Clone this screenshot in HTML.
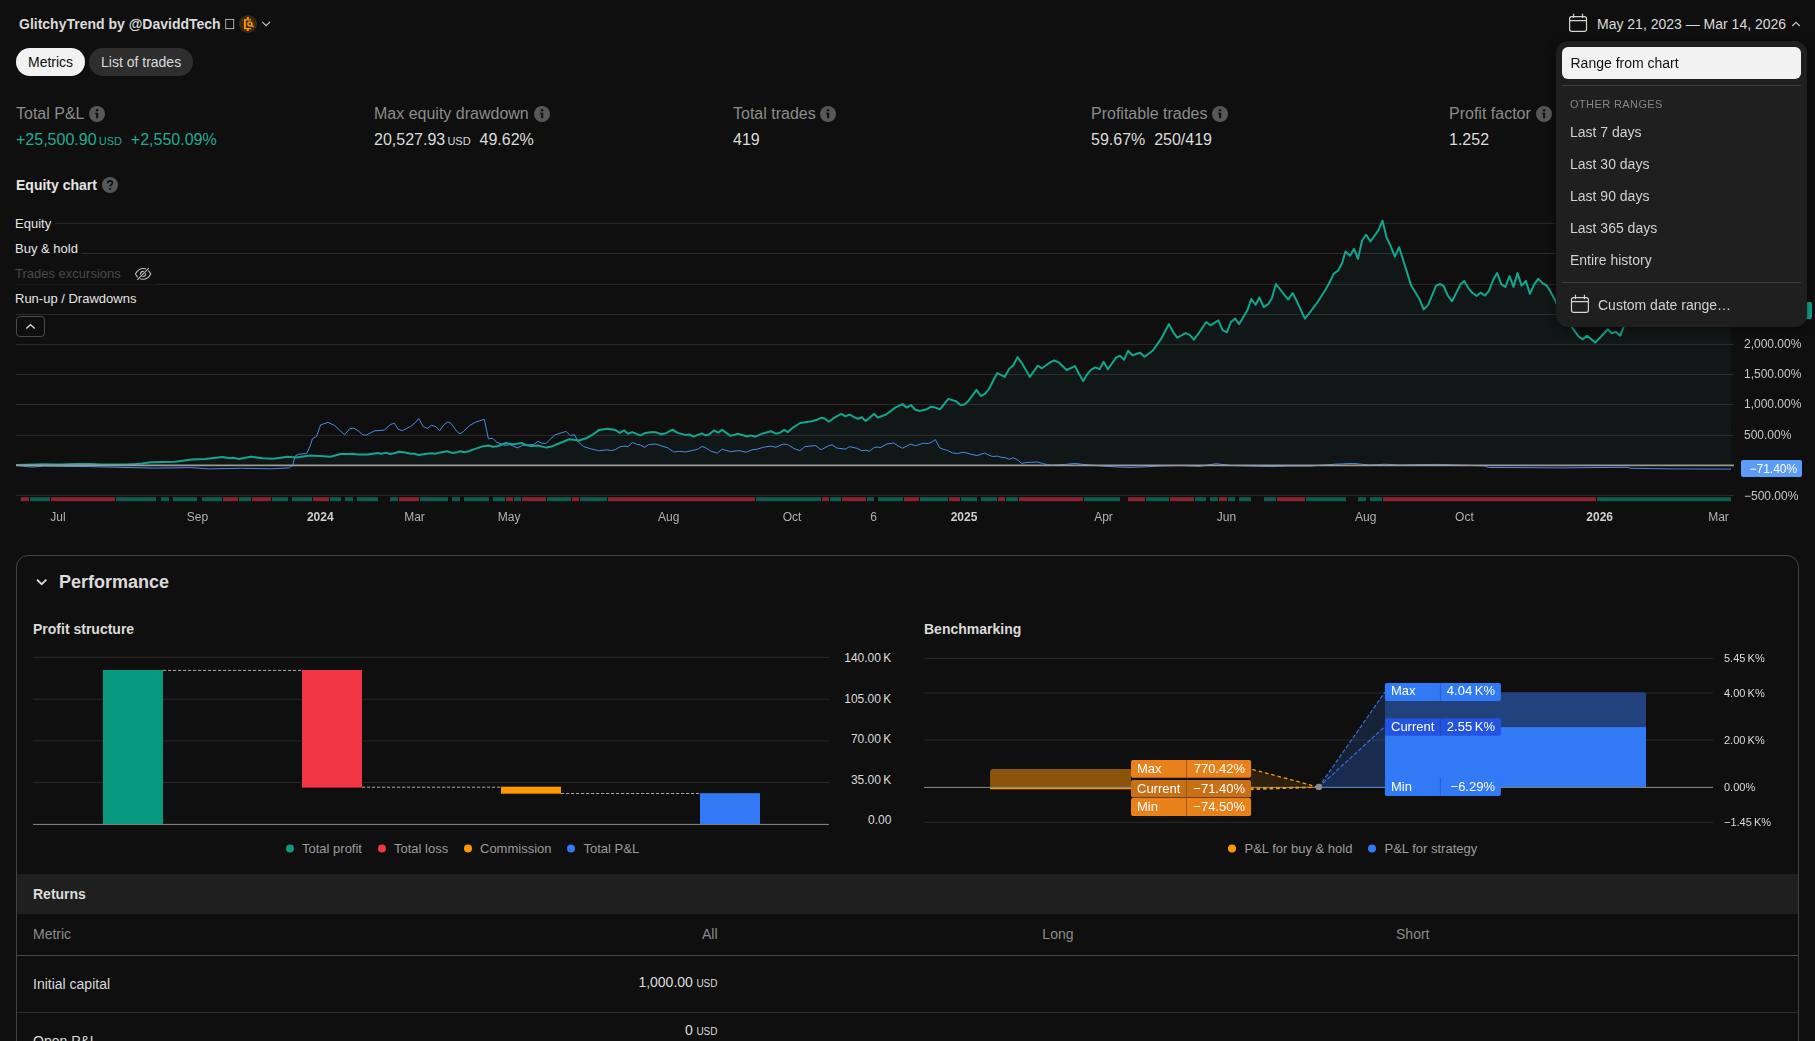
<!DOCTYPE html>
<html>
<head>
<meta charset="utf-8">
<style>
*{box-sizing:border-box;margin:0;padding:0}
html,body{width:1815px;height:1041px;overflow:hidden;background:#0f0f0f;}
body{font-family:"Liberation Sans",sans-serif;color:#dbdbdb;position:relative;font-size:14px;}
.abs{position:absolute;white-space:nowrap;}
.t{position:absolute;white-space:nowrap;line-height:1;}
.title{left:19px;top:17px;font-weight:bold;font-size:14px;color:#dbdbdb;}
.pill{position:absolute;top:48px;height:28px;border-radius:14px;font-size:14px;line-height:28px;padding:0 12px;white-space:nowrap;}
.pill.on{left:16px;background:#f2f2f2;color:#0f0f0f;}
.pill.off{left:89px;background:#2e2e2e;color:#dbdbdb;}
.lab{font-size:16px;color:#8c8c8c;}
.val{font-size:16px;color:#dbdbdb;}
.grn{color:#22ab94;}
.usd{font-size:11px;}
.info{position:absolute;width:16px;height:16px;border-radius:8px;background:#575757;}
.axl{font-size:12px;color:#dbdbdb;}
.tl{font-size:12px;color:#b8b8b8;transform:translateX(-50%);}
.tl b{color:#dbdbdb;}
.leg{font-size:13px;color:#dbdbdb;background:#0f0f0f;}
.lg{font-size:13px;color:#9c9c9c;}
.dot{position:absolute;width:8px;height:8px;border-radius:4px;}
.yl{font-size:11px;color:#dbdbdb;}
.gsl{position:absolute;left:0;top:0;width:1815px;height:1041px;will-change:transform;pointer-events:none;}
.dd{position:absolute;left:1556px;top:41px;width:251px;height:286px;background:#1f1f1f;border-radius:12px;box-shadow:0 2px 8px rgba(0,0,0,.5);}
.ddi{font-size:14px;color:#dbdbdb;left:14px;}
</style>
</head>
<body>
<!-- HEADER -->
<div class="t title">GlitchyTrend by @DaviddTech</div>
<svg class="abs" style="left:220px;top:10px" width="60" height="28" viewBox="220 10 60 28">
<rect x="225.7" y="19.4" width="8" height="9.2" fill="none" stroke="#bdbdbd" stroke-width="0.9"/>
<circle cx="248" cy="24" r="9" fill="#3d290b"/>
<g fill="none" stroke="#ff9800">
<path d="M251 19.85H245V28.6H251" stroke-width="1.25"/>
<path d="M244.75 19.3V29.1" stroke-width="1.6"/>
<path d="M247.85 17.1V19.5M247.85 28.9V30.9" stroke-width="1.9"/>
<circle cx="249.9" cy="23.95" r="2" stroke-width="1.5" fill="#3d290b"/>
<path d="M251.3 25.3L253.7 26.9" stroke-width="1.5"/>
</g>
<path d="M262.2 21.9L266.1 25.6L270 21.9" fill="none" stroke="#c4c4c4" stroke-width="1.25"/>
</svg>

<div class="pill on">Metrics</div>
<div class="pill off">List of trades</div>

<!-- date range button -->
<svg class="abs" style="left:1566px;top:11px" width="24" height="24" viewBox="1566 11 24 24"><g fill="none" stroke="#d4d4d4" stroke-width="1.2"><rect x="1569.6" y="16.6" width="16.9" height="14.7" rx="2.1"/><path d="M1569.6 20.6h16.9M1573.55 13.8v4.3M1582.55 13.8v4.3"/></g></svg>
<div class="t" style="left:1597px;top:17px;font-size:14px;color:#dbdbdb;">May 21, 2023 — Mar 14, 2026</div>
<svg class="abs" style="left:1790.5px;top:21px" width="10" height="6" viewBox="0 0 10 6"><path d="M1.2 5l3.8-3.6L8.8 5" fill="none" stroke="#c4c4c4" stroke-width="1.2"/></svg>

<!-- STATS -->
<div class="t lab" style="left:16px;top:106px;">Total P&amp;L</div>
<div class="t val grn" style="left:16px;top:132px;">+25,500.90<span class="usd">&thinsp;USD</span>&nbsp; +2,550.09%</div>
<div class="t lab" style="left:374px;top:106px;">Max equity drawdown</div>
<div class="t val" style="left:374px;top:132px;">20,527.93<span class="usd">&thinsp;USD</span>&nbsp; 49.62%</div>
<div class="t lab" style="left:733px;top:106px;">Total trades</div>
<div class="t val" style="left:733px;top:132px;">419</div>
<div class="t lab" style="left:1091px;top:106px;">Profitable trades</div>
<div class="t val" style="left:1091px;top:132px;">59.67%&nbsp; 250/419</div>
<div class="t lab" style="left:1449px;top:106px;">Profit factor</div>
<div class="t val" style="left:1449px;top:132px;">1.252</div>

<div class="t" style="left:16px;top:178px;font-size:14px;font-weight:bold;color:#e6e6e6;">Equity chart</div>

<!-- EQUITY CHART -->
<svg id="eq" class="abs" style="left:0;top:200px" width="1815" height="340" viewBox="0 200 1815 340">
<path d="M16 223.3H1734" stroke="#2b2b2b" stroke-width="1"/>
<path d="M16 253.5H1734" stroke="#2b2b2b" stroke-width="1"/>
<path d="M16 284.4H1734" stroke="#2b2b2b" stroke-width="1"/>
<path d="M16 314.5H1734" stroke="#2b2b2b" stroke-width="1"/>
<path d="M16 344.4H1734" stroke="#2b2b2b" stroke-width="1"/>
<path d="M16 374.5H1734" stroke="#2b2b2b" stroke-width="1"/>
<path d="M16 404.5H1734" stroke="#2b2b2b" stroke-width="1"/>
<path d="M16 435.4H1734" stroke="#2b2b2b" stroke-width="1"/>
<path d="M16 495.4H1734" stroke="#2b2b2b" stroke-width="1"/>
<path d="M16.1 465.1L43.1 464.3L59.6 464.5L76.1 464L89.3 464.1L102.6 464.5L125.7 464.5L135.6 464.1L142.2 463.5L150.5 462.3L175.3 461.7L191.8 459.5L205 459L222.4 457L229.8 458.3L233.1 457.7L238.9 459L250.5 456.7L262.9 458.2L272.8 458.8L287.7 456.7L296 457.5L310 455.4L319.8 455.9L330.6 456.7L340.5 454L347.9 454L352.9 453.7L357.9 454.5L367.8 454.5L377.7 452.9L381.8 453.7L386 452.6L390.1 454L394.2 453.2L399.2 451.7L405 452.6L410.7 453.7L414 453.7L419 455L425.6 454L431.4 453.2L435.5 453.7L440.5 452.4L447.1 451.2L452.1 452.9L456.2 452.6L460.3 451.2L464.5 452.2L468.6 451.2L475.2 448.9L481.8 446.6L488.4 445.5L492.6 446.8L497.5 446.3L505.8 443L512.4 444.3L516.5 443.8L521.5 443L525.6 445L531.4 446L538 445.5L546.3 447.6L551.2 446.6L559.5 443.3L569.4 439.3L579.3 440.5L586 438.3L592.6 434.7L599.1 429.9L607.4 428.8L615.6 430.1L619.8 432.9L623.9 430.4L628 433.7L632.1 432.1L640.4 435.4L645.4 432.9L652.8 432.1L656.9 432.6L661.1 434.2L666 433.2L672.6 429.6L677.6 432.9L685 434.9L689.2 434.5L693.8 436.7L701.6 433.4L705.7 435.4L709 434.5L714 430.4L718.1 432.6L722.2 429.9L730.5 435.9L737.9 433.7L747 436.5L751.2 435.4L755.3 436.7L763.6 433.2L771 431.2L776 433.7L780.1 432.6L784.2 429.9L788 432.1L792.5 427.9L800.2 423L811.5 421.3L817.3 419.7L821.4 417.7L824.7 418.5L828.8 421.7L833.8 418L841.2 413.9L845.4 416.4L849.5 414.7L857.8 418.8L861.9 417.2L865.7 421L874 413.9L878.1 417.7L880 416.7L886.1 414.5L895.2 407.6L902.5 404.1L906.8 407.6L910.8 405L915.4 409.8L919.8 411L926.7 409.3L931 406.7L935.3 407.6L940 409.3L948.3 398.9L956.1 401.2L960.4 405.1L964.4 404.6L968.2 401.2L976.5 389.9L980.8 396L985 393.9L988.9 389L997.1 373.1L1004.8 376.9L1009.2 368.8L1013.1 365.7L1017.5 357.1L1021.8 363.1L1029.9 376.9L1037.7 365.7L1042 368.3L1050.3 362.2L1054.3 360.5L1058.6 362.2L1066.7 370L1075 366.1L1078.8 373.5L1083.2 380.9L1087.1 374.4L1091.3 369.7L1095.3 367.4L1099.6 369.2L1103.6 361.7L1107.9 369.2L1116 357.6L1120 355.7L1124.2 359.7L1128.1 350.7L1132.5 355.3L1140.2 352.7L1144.6 356.7L1152.9 350.5L1161 338.9L1169 324.1L1173.5 332.8L1177.3 337.6L1185.6 333.1L1189.7 334.8L1193.9 339.7L1198 334.2L1206.2 322L1210.5 325.3L1218.4 320.3L1222.6 330.2L1226.9 332.4L1230.9 322L1235.2 318.6L1239.2 324.1L1247.3 310.3L1251.3 299L1255.6 304.8L1259.4 297.3L1263.7 307.2L1268.1 304.2L1271.9 298.2L1275.9 284L1284.2 294.7L1288.3 299.6L1292.6 293L1296.6 300.8L1304.9 318.6L1309 313.7L1317.3 302.5L1325.6 289.5L1329.5 282.6L1333.8 273.6L1338.1 270.5L1342.1 263.3L1345.4 251.5L1349.9 255.8L1354 248.9L1358 258.8L1362 240.8L1366.1 234.7L1370.4 241.5L1378.2 230.7L1382.5 220.7L1386.5 237.1L1390.8 246.3L1394.8 256.7L1399.1 247.2L1407.3 273.1L1411.2 285.6L1419.4 299L1423.7 309.4L1428 305.1L1436.1 285.7L1440 284L1443.8 286.1L1447.8 295.6L1452.1 301.3L1460.4 284.4L1464.2 280.9L1468.5 288.3L1472.5 293L1476.7 295.9L1480.6 292.7L1485 295.6L1488.9 290.9L1493.1 280L1497.1 273.1L1501.4 284.4L1505.4 286.9L1509.5 276.2L1513.5 286.9L1517.5 273.1L1521.6 285.6L1525.9 280.9L1529.9 293.9L1534.2 284.4L1538.2 278.8L1542.5 283.1L1546.7 285.6L1550.7 292.1L1555 299.9L1559.3 310.3L1572.3 327.6L1578.3 336.2L1582.7 339.3L1587 335.7L1595.3 342.6L1603.4 334L1607.7 329.3L1611.7 333.3L1616 331.9L1620.3 335.7L1623.3 327.6L1628.5 306.8L1638.8 313.7L1647.5 299.9L1664.8 306.8L1682.1 296.5L1699.4 303.4L1716.7 306.8L1731.4 311L1731 465.2L16 465.2Z" fill="#22ab94" fill-opacity="0.055"/>
<path d="M16.1 465.3L29.8 466.9L34.8 466.9L43.1 466.1L89.3 466.6L109.2 467.1L155.5 468.1L191.8 467.6L208.3 468.9L241.4 468.3L271.2 468.8L289.3 467.9L292.6 465.3L295.1 456.2L298.4 454.2L306.7 453.6L310 446.3L312.4 438.8L316.5 436.4L320.7 424.8L328.1 422.3L334.7 425.6L344.6 434.7L349.6 428.9L353.7 428.1L357.9 430.6L362.8 434.7L366.1 435.2L374.4 430.9L384.3 430.1L390.1 424.8L394.2 423.1L398.3 429.4L402.5 430.6L410.7 426.4L415.7 422.3L418.7 418.5L423.1 426.4L427.3 428.4L431.4 425.3L435.5 426.4L439.7 430.6L443.8 424.8L447.9 421.8L451.2 423.5L456.2 430.6L460 433.9L463.6 431.4L469.4 425.6L475.2 422.3L484.3 419.3L488.4 438.8L492.6 438.3L496.7 442.1L505 445.5L509.9 444.6L517.4 447.9L522.3 445.5L528.1 445L533.9 444.3L538 441.3L542.1 443.3L546.3 443.3L554.5 435L566.1 431.4L570.2 435.5L574.4 434.7L578.5 442.1L583.5 446.6L590.9 448.8L597.5 450.4L599.1 450.7L607.4 449.8L611.5 450.6L615.6 449.4L619.8 446.9L623.9 446.1L628 446.6L632.5 442.5L636.3 444.1L640.4 445L644.5 447.4L648.7 444.5L656.1 444.1L661.1 445.8L667.7 447.8L673.5 451.9L679.3 451.4L685.9 451.9L697.4 449.4L702.1 446.4L705.7 447.8L710.7 451.1L717.3 453.1L722.2 449.1L725.5 450.2L730.5 451.6L738.8 450.6L746.2 452.2L752 449.8L757.8 449.1L762.7 447.4L771 446.1L776 447.3L780.1 445.3L783.4 444.1L787.5 444.5L794.1 448.6L799.9 450.7L804.9 446.6L815.6 445.6L821.1 449.8L828 446.1L832.1 444.8L837.1 448.1L845.4 449.1L849.5 446.6L856.9 448.3L861.9 450.7L866 450.2L869.3 451.4L874.3 447.4L878.4 447.1L880 447.8L886.9 444L893.8 443L898.2 446.1L902.5 448.2L910.8 444L915.4 445.8L923.2 443.2L928.4 443.5L931.9 442.1L935.3 439.5L939.7 447.8L943.1 449.2L947.4 450.4L952.6 453L957.8 453.4L963.9 452.2L969.9 453.9L976.8 455.6L984.6 453L988.1 454.8L992.4 456.5L997.6 456.1L1001 457.3L1005.4 457.7L1009.3 459.4L1013.1 457.7L1017.5 459.9L1021.8 463.4L1026.1 462.5L1037.3 462L1042.5 463.4L1047.7 464.8L1052.9 465.1L1066.7 464.3L1074.5 463.4L1082.3 464.3L1101.3 466L1115.2 466.9L1129 467.4L1144.6 466.9L1160.1 466L1180 465.6L1200 466.3L1216 463.7L1232 465.6L1255 466.2L1272 466.6L1290 466L1310 466.1L1335 464.2L1353 463.4L1370 465L1385 464.2L1400 465L1420 464.6L1440 464.4L1462 465.2L1484.4 465.8L1488.5 467.5L1520 467.6L1560 467.9L1600 467.5L1626 467.3L1632 468.3L1673 468.9L1731 469.1" fill="none" stroke="#4a8ae8" stroke-width="1" stroke-linejoin="round"/>
<path d="M16.1 465.1L43.1 464.3L59.6 464.5L76.1 464L89.3 464.1L102.6 464.5L125.7 464.5L135.6 464.1L142.2 463.5L150.5 462.3L175.3 461.7L191.8 459.5L205 459L222.4 457L229.8 458.3L233.1 457.7L238.9 459L250.5 456.7L262.9 458.2L272.8 458.8L287.7 456.7L296 457.5L310 455.4L319.8 455.9L330.6 456.7L340.5 454L347.9 454L352.9 453.7L357.9 454.5L367.8 454.5L377.7 452.9L381.8 453.7L386 452.6L390.1 454L394.2 453.2L399.2 451.7L405 452.6L410.7 453.7L414 453.7L419 455L425.6 454L431.4 453.2L435.5 453.7L440.5 452.4L447.1 451.2L452.1 452.9L456.2 452.6L460.3 451.2L464.5 452.2L468.6 451.2L475.2 448.9L481.8 446.6L488.4 445.5L492.6 446.8L497.5 446.3L505.8 443L512.4 444.3L516.5 443.8L521.5 443L525.6 445L531.4 446L538 445.5L546.3 447.6L551.2 446.6L559.5 443.3L569.4 439.3L579.3 440.5L586 438.3L592.6 434.7L599.1 429.9L607.4 428.8L615.6 430.1L619.8 432.9L623.9 430.4L628 433.7L632.1 432.1L640.4 435.4L645.4 432.9L652.8 432.1L656.9 432.6L661.1 434.2L666 433.2L672.6 429.6L677.6 432.9L685 434.9L689.2 434.5L693.8 436.7L701.6 433.4L705.7 435.4L709 434.5L714 430.4L718.1 432.6L722.2 429.9L730.5 435.9L737.9 433.7L747 436.5L751.2 435.4L755.3 436.7L763.6 433.2L771 431.2L776 433.7L780.1 432.6L784.2 429.9L788 432.1L792.5 427.9L800.2 423L811.5 421.3L817.3 419.7L821.4 417.7L824.7 418.5L828.8 421.7L833.8 418L841.2 413.9L845.4 416.4L849.5 414.7L857.8 418.8L861.9 417.2L865.7 421L874 413.9L878.1 417.7L880 416.7L886.1 414.5L895.2 407.6L902.5 404.1L906.8 407.6L910.8 405L915.4 409.8L919.8 411L926.7 409.3L931 406.7L935.3 407.6L940 409.3L948.3 398.9L956.1 401.2L960.4 405.1L964.4 404.6L968.2 401.2L976.5 389.9L980.8 396L985 393.9L988.9 389L997.1 373.1L1004.8 376.9L1009.2 368.8L1013.1 365.7L1017.5 357.1L1021.8 363.1L1029.9 376.9L1037.7 365.7L1042 368.3L1050.3 362.2L1054.3 360.5L1058.6 362.2L1066.7 370L1075 366.1L1078.8 373.5L1083.2 380.9L1087.1 374.4L1091.3 369.7L1095.3 367.4L1099.6 369.2L1103.6 361.7L1107.9 369.2L1116 357.6L1120 355.7L1124.2 359.7L1128.1 350.7L1132.5 355.3L1140.2 352.7L1144.6 356.7L1152.9 350.5L1161 338.9L1169 324.1L1173.5 332.8L1177.3 337.6L1185.6 333.1L1189.7 334.8L1193.9 339.7L1198 334.2L1206.2 322L1210.5 325.3L1218.4 320.3L1222.6 330.2L1226.9 332.4L1230.9 322L1235.2 318.6L1239.2 324.1L1247.3 310.3L1251.3 299L1255.6 304.8L1259.4 297.3L1263.7 307.2L1268.1 304.2L1271.9 298.2L1275.9 284L1284.2 294.7L1288.3 299.6L1292.6 293L1296.6 300.8L1304.9 318.6L1309 313.7L1317.3 302.5L1325.6 289.5L1329.5 282.6L1333.8 273.6L1338.1 270.5L1342.1 263.3L1345.4 251.5L1349.9 255.8L1354 248.9L1358 258.8L1362 240.8L1366.1 234.7L1370.4 241.5L1378.2 230.7L1382.5 220.7L1386.5 237.1L1390.8 246.3L1394.8 256.7L1399.1 247.2L1407.3 273.1L1411.2 285.6L1419.4 299L1423.7 309.4L1428 305.1L1436.1 285.7L1440 284L1443.8 286.1L1447.8 295.6L1452.1 301.3L1460.4 284.4L1464.2 280.9L1468.5 288.3L1472.5 293L1476.7 295.9L1480.6 292.7L1485 295.6L1488.9 290.9L1493.1 280L1497.1 273.1L1501.4 284.4L1505.4 286.9L1509.5 276.2L1513.5 286.9L1517.5 273.1L1521.6 285.6L1525.9 280.9L1529.9 293.9L1534.2 284.4L1538.2 278.8L1542.5 283.1L1546.7 285.6L1550.7 292.1L1555 299.9L1559.3 310.3L1572.3 327.6L1578.3 336.2L1582.7 339.3L1587 335.7L1595.3 342.6L1603.4 334L1607.7 329.3L1611.7 333.3L1616 331.9L1620.3 335.7L1623.3 327.6L1628.5 306.8L1638.8 313.7L1647.5 299.9L1664.8 306.8L1682.1 296.5L1699.4 303.4L1716.7 306.8L1731.4 311" fill="none" stroke="#12a68e" stroke-width="2" stroke-linejoin="round"/>
<path d="M16 465.35H1734" stroke="#9a9a9a" stroke-width="1.6"/>
<rect x="20.8" y="497.2" width="8.2" height="4" fill="#8a2530"/>
<rect x="30" y="497.2" width="20" height="4" fill="#0f5c50"/>
<rect x="51" y="497.2" width="64" height="4" fill="#8a2530"/>
<rect x="116" y="497.2" width="40" height="4" fill="#0f5c50"/>
<rect x="161" y="497.2" width="8" height="4" fill="#0f5c50"/>
<rect x="173" y="497.2" width="24" height="4" fill="#0f5c50"/>
<rect x="202" y="497.2" width="20" height="4" fill="#0f5c50"/>
<rect x="223" y="497.2" width="15" height="4" fill="#8a2530"/>
<rect x="239" y="497.2" width="12" height="4" fill="#0f5c50"/>
<rect x="252" y="497.2" width="19" height="4" fill="#8a2530"/>
<rect x="272" y="497.2" width="16" height="4" fill="#0f5c50"/>
<rect x="292" y="497.2" width="20" height="4" fill="#0f5c50"/>
<rect x="313" y="497.2" width="16" height="4" fill="#8a2530"/>
<rect x="330" y="497.2" width="11" height="4" fill="#0f5c50"/>
<rect x="345" y="497.2" width="8" height="4" fill="#0f5c50"/>
<rect x="357" y="497.2" width="21" height="4" fill="#0f5c50"/>
<rect x="390" y="497.2" width="8" height="4" fill="#0f5c50"/>
<rect x="399" y="497.2" width="20" height="4" fill="#8a2530"/>
<rect x="420" y="497.2" width="28" height="4" fill="#0f5c50"/>
<rect x="452" y="497.2" width="8" height="4" fill="#0f5c50"/>
<rect x="464" y="497.2" width="25" height="4" fill="#0f5c50"/>
<rect x="493" y="497.2" width="12" height="4" fill="#0f5c50"/>
<rect x="506" y="497.2" width="7" height="4" fill="#8a2530"/>
<rect x="514" y="497.2" width="7" height="4" fill="#0f5c50"/>
<rect x="522" y="497.2" width="24" height="4" fill="#8a2530"/>
<rect x="547" y="497.2" width="24" height="4" fill="#0f5c50"/>
<rect x="572" y="497.2" width="7" height="4" fill="#8a2530"/>
<rect x="580" y="497.2" width="27" height="4" fill="#0f5c50"/>
<rect x="608" y="497.2" width="147" height="4" fill="#8a2530"/>
<rect x="756" y="497.2" width="65" height="4" fill="#0f5c50"/>
<rect x="822" y="497.2" width="7" height="4" fill="#8a2530"/>
<rect x="830" y="497.2" width="11" height="4" fill="#0f5c50"/>
<rect x="842" y="497.2" width="24" height="4" fill="#8a2530"/>
<rect x="867" y="497.2" width="7" height="4" fill="#0f5c50"/>
<rect x="878" y="497.2" width="25" height="4" fill="#0f5c50"/>
<rect x="904" y="497.2" width="15" height="4" fill="#8a2530"/>
<rect x="920" y="497.2" width="28" height="4" fill="#0f5c50"/>
<rect x="949" y="497.2" width="11" height="4" fill="#8a2530"/>
<rect x="961" y="497.2" width="16" height="4" fill="#0f5c50"/>
<rect x="981" y="497.2" width="16" height="4" fill="#0f5c50"/>
<rect x="998" y="497.2" width="7" height="4" fill="#8a2530"/>
<rect x="1006" y="497.2" width="12" height="4" fill="#0f5c50"/>
<rect x="1019" y="497.2" width="64" height="4" fill="#8a2530"/>
<rect x="1084" y="497.2" width="36" height="4" fill="#0f5c50"/>
<rect x="1128" y="497.2" width="17" height="4" fill="#8a2530"/>
<rect x="1146" y="497.2" width="23" height="4" fill="#0f5c50"/>
<rect x="1170" y="497.2" width="24" height="4" fill="#8a2530"/>
<rect x="1195" y="497.2" width="11" height="4" fill="#0f5c50"/>
<rect x="1210" y="497.2" width="8" height="4" fill="#0f5c50"/>
<rect x="1219" y="497.2" width="8" height="4" fill="#8a2530"/>
<rect x="1228" y="497.2" width="7" height="4" fill="#0f5c50"/>
<rect x="1239" y="497.2" width="12" height="4" fill="#0f5c50"/>
<rect x="1264" y="497.2" width="12" height="4" fill="#0f5c50"/>
<rect x="1277" y="497.2" width="28" height="4" fill="#8a2530"/>
<rect x="1306" y="497.2" width="40" height="4" fill="#0f5c50"/>
<rect x="1358" y="497.2" width="8" height="4" fill="#0f5c50"/>
<rect x="1370" y="497.2" width="12" height="4" fill="#0f5c50"/>
<rect x="1383" y="497.2" width="213" height="4" fill="#8a2530"/>
<rect x="1597" y="497.2" width="134" height="4" fill="#0f5c50"/>
</svg>
<div class="abs" style="left:1741.5px;top:302px;width:70px;height:17px;background:#12a68e;border-radius:2px;"></div>
<div class="abs" style="left:11px;top:211.6px;width:43.5px;height:24.5px;background:rgba(15,15,15,1);"></div>
<div class="t" style="top:217px;font-size:13px;color:#e6e6e6;left:15px;">Equity</div>
<div class="abs" style="left:11px;top:236.5px;width:70.4px;height:24.5px;background:rgba(15,15,15,1);"></div>
<div class="t" style="top:242px;font-size:13px;color:#e6e6e6;left:15px;">Buy &amp; hold</div>
<div class="abs" style="left:11px;top:261.5px;width:145.7px;height:24.5px;background:rgba(15,15,15,0.6);"></div>
<div class="t" style="top:267px;font-size:13px;color:#4a4a4a;left:15px;">Trades excursions</div>
<div class="abs" style="left:11px;top:286.7px;width:129.0px;height:24.5px;background:rgba(15,15,15,1);"></div>
<div class="t" style="top:292px;font-size:13px;color:#e6e6e6;left:15px;">Run-up / Drawdowns</div>
<svg class="abs" style="left:131px;top:262px" width="24" height="24" viewBox="131 262 24 24"><g fill="none" stroke="#c0c0c0" stroke-width="1.1"><path d="M135.4 273.9C137.4 270.3 140 268.5 143.1 268.5C146.2 268.5 148.8 270.3 150.8 273.9C148.8 277.5 146.2 279.3 143.1 279.3C140 279.3 137.4 277.5 135.4 273.9Z"/><circle cx="143.1" cy="273.9" r="2.5"/><path d="M137.9 279.2L148.2 268.8" stroke="#0f0f0f" stroke-width="2.5"/><path d="M137.3 279.9L148.8 268.2"/></g></svg>
<div class="abs" style="left:16px;top:316px;width:29px;height:21px;border:1px solid #4a4a4a;border-radius:4px;"></div>
<svg class="abs" style="left:24px;top:321px" width="14" height="10" viewBox="24 321 14 10"><path d="M26.3 328.4L30.5 324.7L34.7 328.4" fill="none" stroke="#d4d4d4" stroke-width="1.35"/></svg>
<svg class="abs" style="left:89px;top:106px" width="16" height="16" viewBox="0 0 16 16"><circle cx="8" cy="8" r="8" fill="#575757"/><circle cx="8.05" cy="4.3" r="1.25" fill="#0f0f0f"/><path d="M7.1 6.8H9.2V12.3H7.1ZM5.9 6.8H7.2V7.9H5.9Z" fill="#0f0f0f"/></svg>
<svg class="abs" style="left:534px;top:106px" width="16" height="16" viewBox="0 0 16 16"><circle cx="8" cy="8" r="8" fill="#575757"/><circle cx="8.05" cy="4.3" r="1.25" fill="#0f0f0f"/><path d="M7.1 6.8H9.2V12.3H7.1ZM5.9 6.8H7.2V7.9H5.9Z" fill="#0f0f0f"/></svg>
<svg class="abs" style="left:820px;top:106px" width="16" height="16" viewBox="0 0 16 16"><circle cx="8" cy="8" r="8" fill="#575757"/><circle cx="8.05" cy="4.3" r="1.25" fill="#0f0f0f"/><path d="M7.1 6.8H9.2V12.3H7.1ZM5.9 6.8H7.2V7.9H5.9Z" fill="#0f0f0f"/></svg>
<svg class="abs" style="left:1212px;top:106px" width="16" height="16" viewBox="0 0 16 16"><circle cx="8" cy="8" r="8" fill="#575757"/><circle cx="8.05" cy="4.3" r="1.25" fill="#0f0f0f"/><path d="M7.1 6.8H9.2V12.3H7.1ZM5.9 6.8H7.2V7.9H5.9Z" fill="#0f0f0f"/></svg>
<svg class="abs" style="left:1536px;top:106px" width="16" height="16" viewBox="0 0 16 16"><circle cx="8" cy="8" r="8" fill="#575757"/><circle cx="8.05" cy="4.3" r="1.25" fill="#0f0f0f"/><path d="M7.1 6.8H9.2V12.3H7.1ZM5.9 6.8H7.2V7.9H5.9Z" fill="#0f0f0f"/></svg>
<svg class="abs" style="left:102px;top:177px" width="16" height="16" viewBox="0 0 16 16"><circle cx="8" cy="8" r="8" fill="#575757"/><path d="M5.7 6.3c0-1.5 1-2.4 2.4-2.4s2.3.9 2.3 2.1c0 1.9-2.3 1.9-2.3 3.6" fill="none" stroke="#0f0f0f" stroke-width="1.7"/><circle cx="8.1" cy="12" r="1.1" fill="#0f0f0f"/></svg>
<svg class="abs" style="left:34px;top:576px" width="14" height="12" viewBox="34 576 14 12"><path d="M37 579.6L41.7 584.2L46.4 579.6" fill="none" stroke="#dbdbdb" stroke-width="1.8"/></svg>

<!-- PERFORMANCE PANEL -->
<div class="abs" style="left:16px;top:555px;width:1783px;height:520px;border:1px solid #434343;border-radius:12px;"></div>
<div class="t" style="left:59px;top:573px;font-size:18px;font-weight:bold;color:#dbdbdb;">Performance</div>
<div class="t" style="left:33px;top:622px;font-size:14px;font-weight:bold;color:#dbdbdb;">Profit structure</div>
<div class="t" style="left:924px;top:622px;font-size:14px;font-weight:bold;color:#dbdbdb;">Benchmarking</div>

<svg id="perf" class="abs" style="left:0;top:640px" width="1815" height="230" viewBox="0 640 1815 230">
<path d="M33 657.3H829" stroke="#2b2b2b" stroke-width="1"/>
<path d="M33 699.2H829" stroke="#2b2b2b" stroke-width="1"/>
<path d="M33 740.9H829" stroke="#2b2b2b" stroke-width="1"/>
<path d="M33 782.4H829" stroke="#2b2b2b" stroke-width="1"/>
<path d="M33 824.4H829" stroke="#8c8c8c" stroke-width="1"/>
<rect x="103" y="670" width="60" height="154" fill="#089981"/>
<rect x="302" y="670" width="60" height="117.6" fill="#f23645"/>
<rect x="501" y="786.7" width="60" height="7" fill="#ff9800"/>
<rect x="700" y="793.2" width="60" height="30.8" fill="#3179f5"/>
<path d="M163 670.4H302M362 787.2H501M561 793.5H700" stroke="#a8a8a8" stroke-width="1" stroke-dasharray="3.2 1.8" fill="none"/>
<circle cx="290" cy="848.5" r="4" fill="#089981"/>
<circle cx="382" cy="848.5" r="4" fill="#f23645"/>
<circle cx="468" cy="848.5" r="4" fill="#ff9800"/>
<circle cx="571" cy="848.5" r="4" fill="#3179f5"/>
<circle cx="1232" cy="848.5" r="4" fill="#ff9800"/>
<circle cx="1372" cy="848.5" r="4" fill="#3179f5"/>
<path d="M924 658.3H1713" stroke="#2b2b2b" stroke-width="1"/>
<path d="M924 693H1713" stroke="#2b2b2b" stroke-width="1"/>
<path d="M924 740H1713" stroke="#2b2b2b" stroke-width="1"/>
<path d="M924 822.3H1713" stroke="#2b2b2b" stroke-width="1"/>
<path d="M1318.6 787.2L1385 692V787.2Z" fill="#3179f5" fill-opacity="0.18"/>
<path d="M1318.6 787.2L1385 726.5V787.2Z" fill="#3179f5" fill-opacity="0.12"/>
<path d="M1318.6 787.2L1251 769V789Z" fill="#ff9800" fill-opacity="0.14"/>
<path d="M990.1 788V771.9a3 3 0 0 1 3-3H1131V788Z" fill="#8a5508"/>
<path d="M990.1 788.6H1131" stroke="#ff9800" stroke-width="1.1"/>
<path d="M1385 787.2V692.2H1644a2 2 0 0 1 2 2V787.2Z" fill="#22427e"/>
<rect x="1385" y="727.1" width="261" height="60" fill="#3179f5"/>
<path d="M924 787.4H1713" stroke="#8c8c8c" stroke-width="1"/>
<path d="M1318.6 787.2L1385 692M1318.6 787.2L1385 726.5M1318.6 787.2L1385 787.2" stroke="#3778e6" stroke-width="1.1" stroke-dasharray="4 2" fill="none"/>
<path d="M1318.6 787.2L1251 769M1318.6 787.2L1251 788M1318.6 787.2L1251 789.5" stroke="#f59a1b" stroke-width="1.3" stroke-dasharray="3.5 3" fill="none"/>
<circle cx="1318.8" cy="786.9" r="3.2" fill="#8c8c8c"/>
<rect x="1131" y="760.1" width="120.09999999999991" height="17.699999999999932" rx="2" fill="#e8811a"/><rect x="1186.0" y="760.1" width="1" height="17.699999999999932" fill="#9c5a10"/>
<rect x="1131" y="779.9" width="120.09999999999991" height="17.5" rx="2" fill="#c87016"/><rect x="1186.0" y="779.9" width="1" height="17.5" fill="#9c5a10"/>
<rect x="1131" y="798" width="120.09999999999991" height="18" rx="2" fill="#e8811a"/><rect x="1186.0" y="798" width="1" height="18" fill="#9c5a10"/>
<rect x="1384.9" y="683.1" width="116.0" height="17.799999999999955" rx="2" fill="#3179f5"/><rect x="1439.9" y="683.1" width="1" height="17.799999999999955" fill="#2860c8"/>
<rect x="1384.9" y="718.2" width="116.0" height="17.59999999999991" rx="2" fill="#2354e0"/><rect x="1439.9" y="718.2" width="1" height="17.59999999999991" fill="#1f48bd"/>
<rect x="1384.9" y="778.1" width="116.0" height="17.799999999999955" rx="2" fill="#3179f5"/><rect x="1439.9" y="778.1" width="1" height="17.799999999999955" fill="#2860c8"/>
</svg>
<div class="t" style="top:652px;font-size:12px;color:#dbdbdb;right:923.7px;">140.00&thinsp;K</div>
<div class="t" style="top:693px;font-size:12px;color:#dbdbdb;right:923.7px;">105.00&thinsp;K</div>
<div class="t" style="top:733px;font-size:12px;color:#dbdbdb;right:923.7px;">70.00&thinsp;K</div>
<div class="t" style="top:774px;font-size:12px;color:#dbdbdb;right:923.7px;">35.00&thinsp;K</div>
<div class="t" style="top:814px;font-size:12px;color:#dbdbdb;right:923.7px;">0.00</div>
<div class="t" style="top:842px;font-size:13px;color:#9c9c9c;left:302px;">Total profit</div>
<div class="t" style="top:842px;font-size:13px;color:#9c9c9c;left:394px;">Total loss</div>
<div class="t" style="top:842px;font-size:13px;color:#9c9c9c;left:480px;">Commission</div>
<div class="t" style="top:842px;font-size:13px;color:#9c9c9c;left:583.5px;">Total P&amp;L</div>
<div class="t" style="top:842px;font-size:13px;color:#9c9c9c;left:1244.5px;">P&amp;L for buy &amp; hold</div>
<div class="t" style="top:842px;font-size:13px;color:#9c9c9c;left:1384.5px;">P&amp;L for strategy</div>
<div class="t" style="top:927px;font-size:14px;color:#8c8c8c;left:33px;">Metric</div>
<div class="t" style="top:927px;font-size:14px;color:#8c8c8c;right:1097.5px;">All</div>
<div class="t" style="top:927px;font-size:14px;color:#8c8c8c;right:741.5px;">Long</div>
<div class="t" style="top:927px;font-size:14px;color:#8c8c8c;right:385.5px;">Short</div>
<div class="abs" style="left:17px;top:955px;width:1781px;height:1px;background:#4a4a4a;"></div>
<div class="t" style="top:977px;font-size:14px;color:#dbdbdb;left:33px;">Initial capital</div>
<div class="t" style="top:975px;font-size:14px;color:#dbdbdb;right:1097.5px;">1,000.00<span style="font-size:10px;margin-left:1.5px">&thinsp;USD</span></div>
<div class="abs" style="left:17px;top:1012px;width:1781px;height:1px;background:#2e2e2e;"></div>
<div class="t" style="top:1034px;font-size:14px;color:#dbdbdb;left:33px;">Open P&amp;L</div>
<div class="t" style="top:1023px;font-size:14px;color:#dbdbdb;right:1097.5px;">0<span style="font-size:10px;margin-left:1.5px">&thinsp;USD</span></div>

<!-- RETURNS -->
<div class="abs" style="left:17px;top:874px;width:1781px;height:40px;background:#1f1f1f;"></div>
<div class="t" style="left:33px;top:887px;font-size:14px;font-weight:bold;color:#dbdbdb;">Returns</div>

<div class="gsl">
<div class="t" style="top:338px;font-size:12px;color:#c9c9c9;left:1744px;">2,000.00%</div>
<div class="t" style="top:368px;font-size:12px;color:#c9c9c9;left:1744px;">1,500.00%</div>
<div class="t" style="top:398px;font-size:12px;color:#c9c9c9;left:1744px;">1,000.00%</div>
<div class="t" style="top:429px;font-size:12px;color:#c9c9c9;left:1744px;">500.00%</div>
<div class="t" style="top:459px;font-size:12px;color:#c9c9c9;left:1744px;">0.00%</div>
<div class="t" style="top:490px;font-size:12px;color:#c9c9c9;left:1744px;">−500.00%</div>
<div class="abs" style="left:1740.7px;top:460.2px;width:61.3px;height:17.3px;background:#5b9cf6;border-radius:2px;"></div>
<div class="t" style="top:463px;font-size:12px;color:#ffffff;left:1749.5px;">−71.40%</div>
<div class="t" style="top:511px;font-size:12px;color:#b2b2b2;left:58px;transform:translateX(-50%);">Jul</div>
<div class="t" style="top:511px;font-size:12px;color:#b2b2b2;left:197.4px;transform:translateX(-50%);">Sep</div>
<div class="t" style="top:511px;font-size:12px;color:#cfcfcf;font-weight:bold;left:320.3px;transform:translateX(-50%);">2024</div>
<div class="t" style="top:511px;font-size:12px;color:#b2b2b2;left:414.5px;transform:translateX(-50%);">Mar</div>
<div class="t" style="top:511px;font-size:12px;color:#b2b2b2;left:509.1px;transform:translateX(-50%);">May</div>
<div class="t" style="top:511px;font-size:12px;color:#b2b2b2;left:668.8px;transform:translateX(-50%);">Aug</div>
<div class="t" style="top:511px;font-size:12px;color:#b2b2b2;left:792.1px;transform:translateX(-50%);">Oct</div>
<div class="t" style="top:511px;font-size:12px;color:#b2b2b2;left:873.7px;transform:translateX(-50%);">6</div>
<div class="t" style="top:511px;font-size:12px;color:#cfcfcf;font-weight:bold;left:964px;transform:translateX(-50%);">2025</div>
<div class="t" style="top:511px;font-size:12px;color:#b2b2b2;left:1103.5px;transform:translateX(-50%);">Apr</div>
<div class="t" style="top:511px;font-size:12px;color:#b2b2b2;left:1226.4px;transform:translateX(-50%);">Jun</div>
<div class="t" style="top:511px;font-size:12px;color:#b2b2b2;left:1365.8px;transform:translateX(-50%);">Aug</div>
<div class="t" style="top:511px;font-size:12px;color:#b2b2b2;left:1464.4px;transform:translateX(-50%);">Oct</div>
<div class="t" style="top:511px;font-size:12px;color:#cfcfcf;font-weight:bold;left:1599.7px;transform:translateX(-50%);">2026</div>
<div class="t" style="top:511px;font-size:12px;color:#b2b2b2;left:1718.5px;transform:translateX(-50%);">Mar</div>
<div class="t" style="top:653px;font-size:11px;color:#dbdbdb;left:1724px;">5.45&thinsp;K%</div>
<div class="t" style="top:688px;font-size:11px;color:#dbdbdb;left:1724px;">4.00&thinsp;K%</div>
<div class="t" style="top:735px;font-size:11px;color:#dbdbdb;left:1724px;">2.00&thinsp;K%</div>
<div class="t" style="top:782px;font-size:11px;color:#dbdbdb;left:1724px;">0.00%</div>
<div class="t" style="top:817px;font-size:11px;color:#dbdbdb;left:1724px;">−1.45&thinsp;K%</div>
<div class="t" style="top:762px;font-size:13px;color:#ffffff;left:1137px;">Max</div>
<div class="t" style="top:762px;font-size:13px;color:#ffffff;right:570px;">770.42%</div>
<div class="t" style="top:782px;font-size:13px;color:#ffffff;left:1137px;">Current</div>
<div class="t" style="top:782px;font-size:13px;color:#ffffff;right:570px;">−71.40%</div>
<div class="t" style="top:800px;font-size:13px;color:#ffffff;left:1137px;">Min</div>
<div class="t" style="top:800px;font-size:13px;color:#ffffff;right:570px;">−74.50%</div>
<div class="t" style="top:684px;font-size:13px;color:#ffffff;left:1391px;">Max</div>
<div class="t" style="top:684px;font-size:13px;color:#ffffff;right:320px;">4.04&thinsp;K%</div>
<div class="t" style="top:720px;font-size:13px;color:#ffffff;left:1391px;">Current</div>
<div class="t" style="top:720px;font-size:13px;color:#ffffff;right:320px;">2.55&thinsp;K%</div>
<div class="t" style="top:780px;font-size:13px;color:#ffffff;left:1391px;">Min</div>
<div class="t" style="top:780px;font-size:13px;color:#ffffff;right:320px;">−6.29%</div>
</div>
<!-- DROPDOWN -->
<div class="gsl">
<div class="dd"></div>
<div class="abs" style="left:1562px;top:47px;width:239px;height:32px;background:#f2f2f2;border-radius:6px;"></div>
<div class="t" style="top:56px;font-size:14px;color:#131313;left:1570.5px;">Range from chart</div>
<div class="abs" style="left:1562px;top:85px;width:239px;height:1px;background:#3d3d3d;"></div>
<div class="t" style="top:99px;font-size:11px;color:#868686;left:1570px;letter-spacing:.4px;">OTHER RANGES</div>
<div class="t" style="top:125px;font-size:14px;color:#d1d1d1;left:1570px;">Last 7 days</div>
<div class="t" style="top:157px;font-size:14px;color:#d1d1d1;left:1570px;">Last 30 days</div>
<div class="t" style="top:189px;font-size:14px;color:#d1d1d1;left:1570px;">Last 90 days</div>
<div class="t" style="top:221px;font-size:14px;color:#d1d1d1;left:1570px;">Last 365 days</div>
<div class="t" style="top:253px;font-size:14px;color:#d1d1d1;left:1570px;">Entire history</div>
<div class="abs" style="left:1562px;top:281.5px;width:239px;height:1px;background:#3d3d3d;"></div>
<svg class="abs" style="left:1568px;top:292px" width="24" height="24" viewBox="1568 292 24 24"><g fill="none" stroke="#d4d4d4" stroke-width="1.2"><rect x="1571.5" y="297.65" width="16.9" height="14.7" rx="2.1"/><path d="M1571.5 301.65h16.9M1575.45 294.84999999999997v4.3M1584.45 294.84999999999997v4.3"/></g></svg>
<div class="t" style="top:298px;font-size:14px;color:#d1d1d1;left:1598px;">Custom date range…</div>
</div>
</body>
</html>
